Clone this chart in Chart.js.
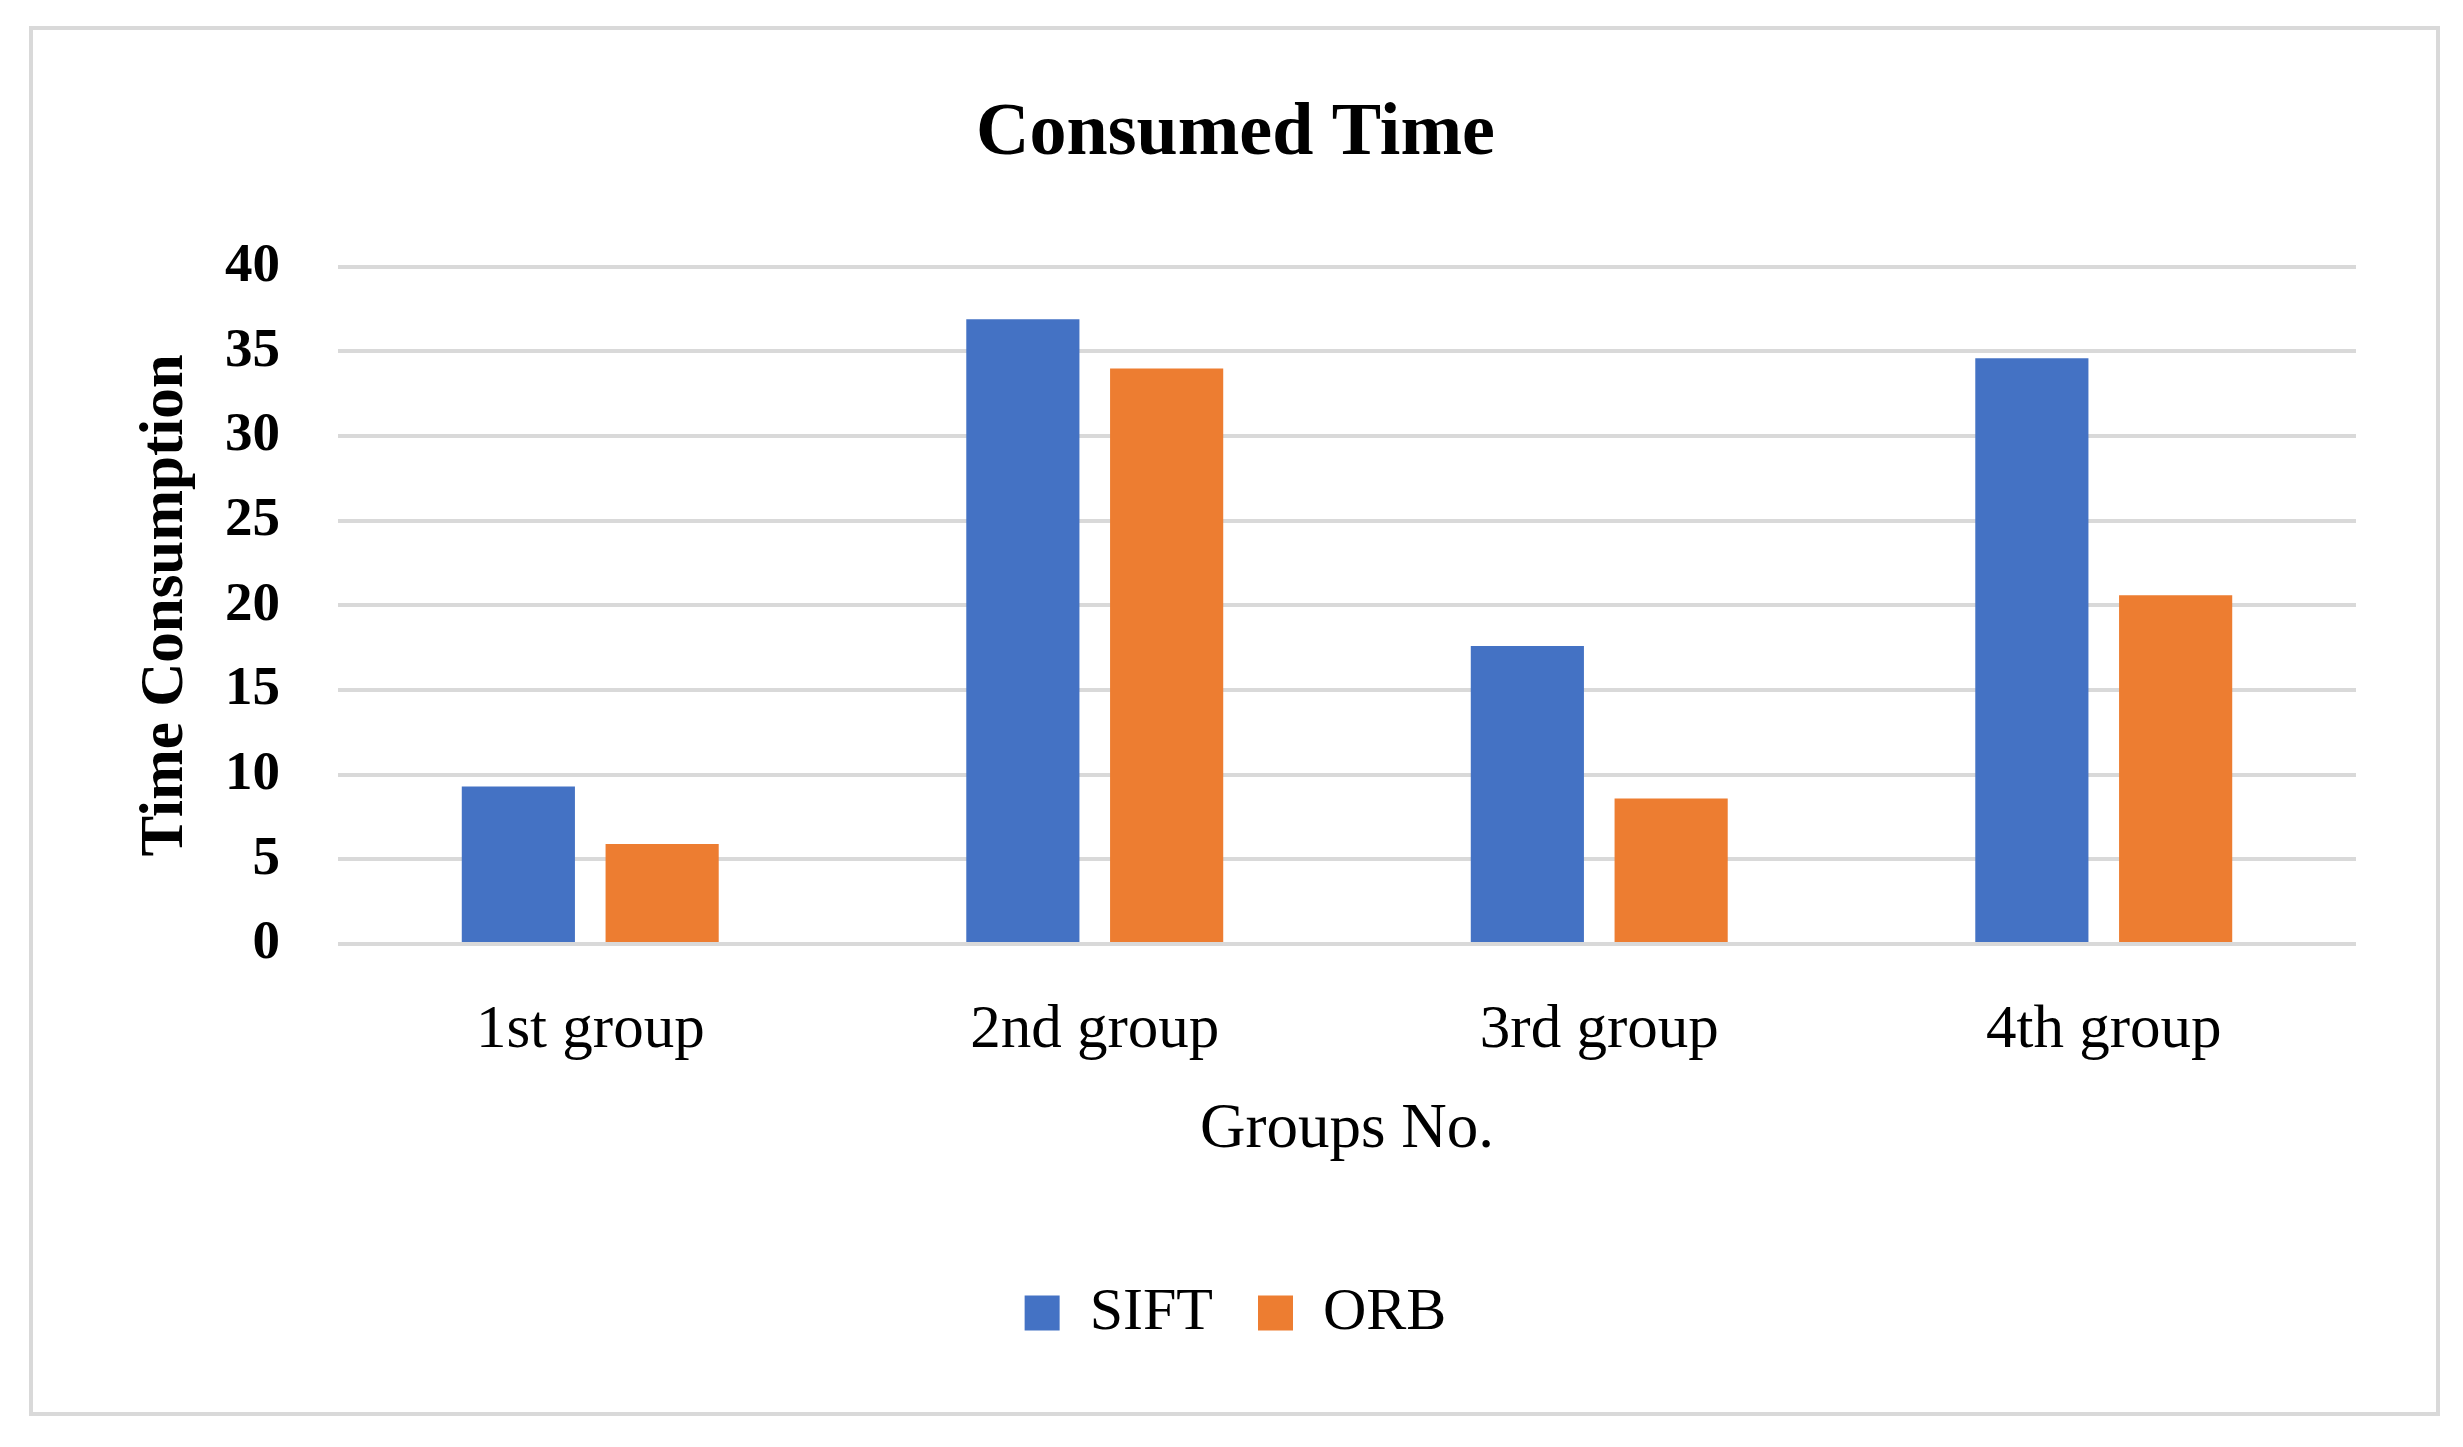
<!DOCTYPE html>
<html>
<head>
<meta charset="utf-8">
<title>Consumed Time</title>
<script src="https://cdn.jsdelivr.net/npm/chart.js@4"></script>
<style>
  html, body { margin: 0; padding: 0; background: #fff; }
  canvas { display: block; }
</style>
</head>
<body>
<canvas id="chart" width="2463" height="1447"></canvas>
<script>
// Chart data
const groups = ['1st group', '2nd group', '3rd group', '4th group'];
const siftTimes = [9.3, 36.9, 17.6, 34.6];
const orbTimes = [5.9, 34.0, 8.6, 20.6];
const yTicks = [0, 5, 10, 15, 20, 25, 30, 35, 40];

const serif = 'Liberation Serif';

// white background + light gray frame round the whole figure
const framePlugin = {
  id: 'frame',
  beforeDraw(chart) {
    const ctx = chart.ctx;
    ctx.save();
    ctx.fillStyle = '#ffffff';
    ctx.fillRect(0, 0, chart.width, chart.height);
    ctx.strokeStyle = '#d9d9d9';
    ctx.lineWidth = 4;
    ctx.strokeRect(31, 28, 2407, 1386);
    ctx.restore();
  }
};

new Chart(document.getElementById('chart').getContext('2d'), {
  type: 'bar',
  data: {
    labels: groups,
    datasets: [
      { label: 'SIFT', data: siftTimes, backgroundColor: '#4472C4' },
      { label: 'ORB', data: orbTimes, backgroundColor: '#ED7D31' }
    ]
  },
  options: {
    responsive: false,
    animation: false,
    devicePixelRatio: 1,
    categoryPercentage: 0.57,
    barPercentage: 0.787,
    layout: { padding: { top: 30, left: 115, right: 107, bottom: 94 } },
    plugins: {
      title: {
        display: true,
        text: 'Consumed Time',
        color: '#000',
        font: { family: serif, size: 74, weight: 'bold' },
        padding: { top: 60, bottom: 88 }
      },
      legend: {
        position: 'bottom',
        labels: {
          color: '#000',
          font: { family: serif, size: 60 },
          boxWidth: 35,
          boxHeight: 35,
          padding: 45
        }
      },
      tooltip: { enabled: false }
    },
    scales: {
      x: {
        grid: { display: false },
        border: { display: false },
        ticks: { color: '#000', font: { family: serif, size: 61 }, padding: 42 },
        title: {
          display: true,
          text: 'Groups No.',
          color: '#000',
          font: { family: serif, size: 63 },
          padding: { top: 0, bottom: 70 }
        },
        afterFit(scale) { scale.height = 294; }
      },
      y: {
        min: 0,
        max: 40,
        afterBuildTicks(scale) { scale.ticks = yTicks.map(v => ({ value: v })); },
        grid: { color: '#d9d9d9', lineWidth: 4, drawTicks: false },
        border: { display: false },
        ticks: { color: '#000', font: { family: serif, size: 55, weight: 'bold' }, padding: 58 },
        title: {
          display: true,
          text: 'Time Consumption',
          color: '#000',
          font: { family: serif, size: 61, weight: 'bold' },
          padding: { top: 15, bottom: 0 }
        },
        afterFit(scale) { scale.width = 223; }
      }
    }
  },
  plugins: [framePlugin]
});
</script>
</body>
</html>
